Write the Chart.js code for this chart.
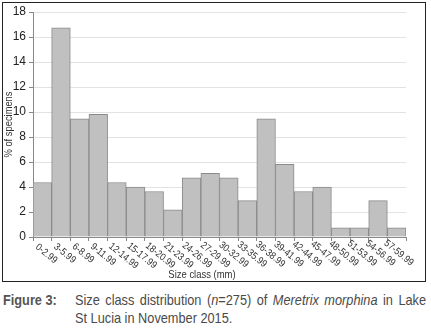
<!DOCTYPE html>
<html>
<head>
<meta charset="utf-8">
<script src="https://cdn.jsdelivr.net/npm/chart.js@4.4.1/dist/chart.umd.min.js"></script>
<style>
  body { margin: 0; background: #fff; width: 431px; height: 332px; overflow: hidden; position: relative; }
  #box { position: absolute; left: 2px; top: 2px; width: 422px; height: 278px; border: 1.5px solid #222; }
  #chart { position: absolute; left: 0; top: 0; }
  .cap { position: absolute; font-family: "Liberation Sans", Arial, sans-serif; font-size: 15px; line-height: 15px;
         color: #4a4a4a; transform: scaleX(0.85); transform-origin: 0 0; white-space: nowrap; }
  #figno { left: 3px; top: 292px; font-weight: bold; color: #555; }
  #line1 { left: 75px; top: 292px; width: 413px; text-align: justify; text-align-last: justify; }
  #line2 { left: 75px; top: 310px; }
</style>
</head>
<body>
<div id="box"></div>
<canvas id="chart" width="431" height="286"></canvas>
<div class="cap" id="figno">Figure 3:</div>
<div class="cap" id="line1">Size class distribution (<i>n</i>=275) of <i>Meretrix morphina</i> in Lake</div>
<div class="cap" id="line2">St Lucia in November 2015.</div>
<script>
const sizeClasses = ["0-2.99", "3-5.99", "6-8.99", "9-11.99", "12-14.99", "15-17.99", "18-20.99",
  "21-23.99", "24-26.99", "27-29.99", "30-32.99", "33-35.99", "36-38.99", "39-41.99", "42-44.99",
  "45-47.99", "48-50.99", "51-53.99", "54-56.99", "57-59.99"];
const percentSpecimens = [4.36, 16.73, 9.45, 9.82, 4.36, 4.00, 3.64, 2.18, 4.73, 5.09,
  4.73, 2.91, 9.45, 5.82, 3.64, 4.00, 0.73, 0.73, 2.91, 0.73];
const yMax = 18;
const yStep = 2;
const xTitle = "Size class (mm)";
const yTitle = "% of specimens";

const sans = '"Liberation Sans", Arial, sans-serif';

// rotated labels run down to the right, which chart.js does not do itself
const labelPlugin = {
  id: "labels",
  afterDraw(chart) {
    const ctx = chart.ctx;
    const x = chart.scales.x;
    ctx.save();
    ctx.fillStyle = "#333";
    ctx.font = "10px " + sans;
    ctx.textAlign = "left";
    ctx.textBaseline = "top";
    sizeClasses.forEach((lab, i) => {
      ctx.save();
      ctx.translate(x.getPixelForValue(i) - 2.5 - 0.3 * i, x.top + 5 - 0.2 * i);
      ctx.rotate(39 * Math.PI / 180);
      ctx.scale(0.88, 1);
      ctx.fillText(lab, 0, 0);
      ctx.restore();
    });
    ctx.font = "11px " + sans;
    ctx.textAlign = "center";
    ctx.textBaseline = "middle";
    ctx.save();
    ctx.translate(202, 275);
    ctx.scale(0.86, 1);
    ctx.fillText(xTitle, 0, 0);
    ctx.restore();
    ctx.translate(9, (chart.chartArea.top + chart.chartArea.bottom) / 2);
    ctx.rotate(-Math.PI / 2);
    ctx.scale(0.85, 1);
    ctx.fillText(yTitle, 0, 0);
    ctx.restore();
  }
};

new Chart(document.getElementById("chart"), {
  type: "bar",
  data: {
    labels: sizeClasses,
    datasets: [{
      data: percentSpecimens,
      backgroundColor: "#c0c0c0",
      borderColor: "#8a8a8a",
      borderWidth: 1,
      barPercentage: 1,
      categoryPercentage: 1
    }]
  },
  options: {
    responsive: false,
    animation: false,
    layout: { padding: { left: 4, right: 25, top: 12, bottom: 0 } },
    plugins: { legend: { display: false }, tooltip: { enabled: false } },
    scales: {
      x: {
        grid: { drawOnChartArea: false, tickLength: 4, tickColor: "#888" },
        border: { color: "#888" },
        ticks: { display: false },
        afterFit: (s) => { s.height = 49; }
      },
      y: {
        min: 0,
        max: yMax,
        ticks: { stepSize: yStep, color: "#222", font: { size: 12, family: sans }, padding: 3 },
        grid: { color: "#e2e2e2", tickLength: 4, tickColor: "#888" },
        border: { color: "#888" },
        afterFit: (s) => { s.width = 29; }
      }
    }
  },
  plugins: [labelPlugin]
});
</script>
</body>
</html>
